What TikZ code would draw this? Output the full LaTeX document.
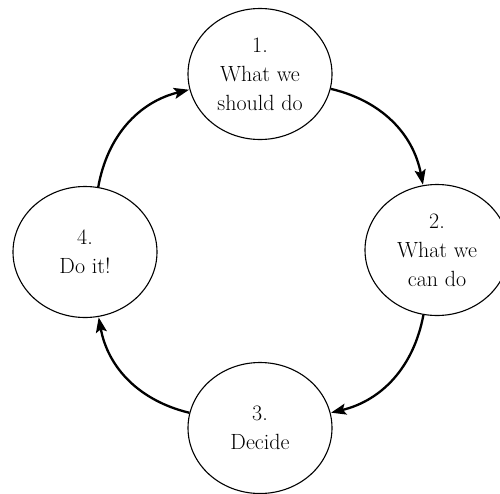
\documentclass[tikz,border=0pt]{standalone}
\usetikzlibrary{shapes.geometric,arrows.meta}
\begin{document}
\begin{tikzpicture}[x=1pt,y=1pt,
  stage/.style={ellipse,draw,line width=1.1pt,minimum width=144pt,minimum height=131pt,
    inner sep=0pt,align=center,font=\fontsize{22}{29}\selectfont},
  flow/.style={line width=2.3pt,-{Stealth[length=15pt,width=11pt,inset=3pt]},shorten >=0.5pt}]
\useasboundingbox (0,0) rectangle (500,-493);
\node[stage] (s1) at (260,-74)  {1.\\What we\\should do};
\node[stage] (s2) at (437,-250) {2.\\What we\\can do};
\node[stage] (s3) at (260,-428) {3.\\Decide};
\node[stage] (s4) at (85,-252)  {4.\\Do it!};
\draw[flow] (s1) to[bend left=33] (s2);
\draw[flow] (s2) to[bend left=33] (s3);
\draw[flow] (s3) to[bend left=33] (s4);
\draw[flow] (s4) to[bend left=33] (s1);
\end{tikzpicture}
\end{document}
